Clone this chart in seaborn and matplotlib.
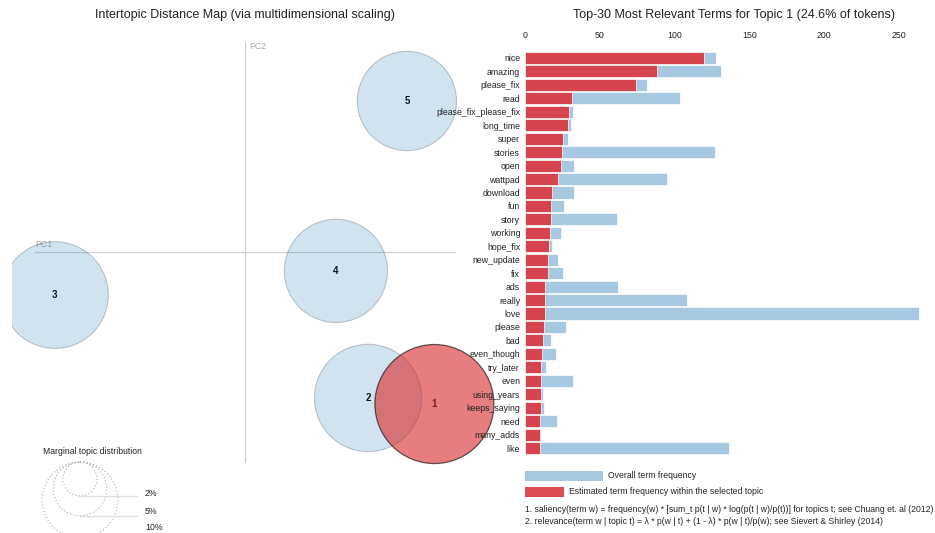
import matplotlib
matplotlib.use("Agg")
import matplotlib.pyplot as plt
from matplotlib.patches import Circle, Rectangle
import numpy as np
import pandas as pd
import seaborn as sns

# ---------------- data ----------------
terms = ["nice", "amazing", "please_fix", "read", "please_fix_please_fix", "long_time",
         "super", "stories", "open", "wattpad", "download", "fun", "story", "working",
         "hope_fix", "new_update", "fix", "ads", "really", "love", "please", "bad",
         "even_though", "try_later", "even", "using_years", "keeps_saying", "need",
         "many_adds", "like"]
overall_freq = [127.7, 130.8, 81.3, 103.6, 32.3, 30.7, 29.0, 127.0, 33.0, 94.7,
                32.8, 25.9, 61.3, 24.3, 18.3, 22.3, 25.6, 62.4, 108.1, 263.6,
                27.6, 17.4, 20.9, 14.0, 32.1, 12.0, 12.7, 21.4, 10.9, 136.6]
topic_freq = [119.7, 88.2, 74.0, 31.2, 29.6, 28.7, 25.2, 24.7, 24.3, 22.3,
              18.0, 17.6, 17.2, 16.5, 16.0, 15.6, 15.2, 13.6, 13.6, 13.2,
              12.9, 12.3, 11.1, 10.7, 11.0, 10.5, 10.5, 10.0, 10.0, 9.8]
freq_ticks = [0, 50, 100, 150, 200, 250]

topics = [1, 2, 3, 4, 5]
pc1 = [0.902, 0.586, -0.905, 0.433, 0.771]
pc2 = [-0.724, -0.695, -0.205, -0.090, 0.719]
topic_pct = [24.6, 20.0, 19.8, 18.5, 17.1]
selected_topic = 1
legend_pcts = [2, 5, 10]

# ---------------- style ----------------
sns.set_theme(style="white")
plt.rcParams["font.family"] = ["Liberation Sans", "DejaVu Sans"]

W, H = 935, 533
fig = plt.figure(figsize=(W / 100, H / 100), dpi=100)

PX_PER_UNIT = 210.0
CX, CY = 245.0, 252.0
R_PER_SQRT = 12.0  # px radius per sqrt(percent)

def fx(px):
    return px / W

def fy(py):
    return 1 - py / H

# overlay axes in pixel coordinates
ov = fig.add_axes([0, 0, 1, 1])
ov.set_xlim(0, W)
ov.set_ylim(H, 0)
ov.axis("off")
ov.set_zorder(5)
ov.patch.set_alpha(0)

# ---------------- MDS panel ----------------
left_px, right_px = 12, 520
mds = fig.add_axes([fx(left_px), 0, (right_px - left_px) / W, 1])
mds.set_xlim((left_px - CX) / PX_PER_UNIT, (right_px - CX) / PX_PER_UNIT)
mds.set_ylim((CY - H) / PX_PER_UNIT, CY / PX_PER_UNIT)
mds.axis("off")
mds.patch.set_alpha(0)

grid_col = "#d0d0d0"
mds.plot([-1, 1], [0, 0], color=grid_col, lw=0.9, zorder=1)
mds.plot([0, 0], [-1, 1], color=grid_col, lw=0.9, zorder=1)
mds.text(-1, 0.012, "PC1", color="#aaaaaa", fontsize=6.3, ha="left", va="bottom")
mds.text(0.02, 1 - 0.02, "PC2", color="#aaaaaa", fontsize=6.3, ha="left", va="center")

df_mds = pd.DataFrame({"topic": topics, "PC1": pc1, "PC2": pc2, "pct": topic_pct})
for _, r in df_mds.iterrows():
    mds.text(r.PC1, r.PC2, str(int(r.topic)), ha="center", va="center",
             fontsize=7, fontweight="bold", color="black", zorder=2)
for _, r in df_mds.sort_values("topic", ascending=False).iterrows():
    rad = R_PER_SQRT * np.sqrt(r.pct) / PX_PER_UNIT
    if int(r.topic) == selected_topic:
        c = Circle((r.PC1, r.PC2), rad, facecolor="#d62728", edgecolor="black",
                   alpha=0.6, lw=0.9, zorder=4)
    else:
        c = Circle((r.PC1, r.PC2), rad, facecolor="#1f77b4", edgecolor="black",
                   alpha=0.2, lw=0.8, zorder=3)
    mds.add_patch(c)

# titles
ov.text(245, 15, "Intertopic Distance Map (via multidimensional scaling)",
        ha="center", va="center", fontsize=9, color="#222222")
ov.text(734, 15, "Top-30 Most Relevant Terms for Topic 1 (24.6% of tokens)",
        ha="center", va="center", fontsize=9, color="#222222")

# marginal topic distribution legend
ov.text(43, 452, "Marginal topic distribution", ha="left", va="center",
        fontsize=6.2, color="#222222")
top_y = 462
for p, ly in zip(legend_pcts, [493, 512, 527]):
    rr = R_PER_SQRT * np.sqrt(p)
    ov.add_patch(Circle((80, top_y + rr), rr, fill=False, edgecolor="#aaaaaa",
                        ls=(0, (1, 2)), lw=0.8, clip_on=False))
    ov.plot([80, 137], [top_y + 2 * rr, top_y + 2 * rr], color="#dddddd", lw=0.9)
    ov.text(145, ly, f"{p}%", ha="left", va="center", fontsize=6.3, color="#222222")

# ---------------- bar panel ----------------
row_h = 13.45
y0 = 58 - 0.5 * row_h
y1 = 448 + 0.5 * row_h
bx0, bx1 = 525, 925
px_per_val = 1.496
bar = fig.add_axes([fx(bx0), fy(y1), (bx1 - bx0) / W, (y1 - y0) / H])
df_bar = pd.DataFrame({"term": terms, "overall": overall_freq, "topic": topic_freq})
sns.barplot(data=df_bar, y="term", x="overall", order=terms, orient="h",
            color="#a6c9e1", saturation=1, width=0.9, edgecolor="white",
            linewidth=0.5, ax=bar)
sns.barplot(data=df_bar, y="term", x="topic", order=terms, orient="h",
            color="#d6454f", saturation=1, width=0.9, edgecolor="white",
            linewidth=0.5, ax=bar)
bar.set_xlim(0, (bx1 - bx0) / px_per_val)
bar.set_ylim(len(terms) - 0.5, -0.5)
bar.xaxis.tick_top()
bar.set_xticks(freq_ticks)
bar.set_xticklabels([str(t) for t in freq_ticks])
bar.tick_params(axis="x", length=0, pad=8, labelsize=6.3, colors="#222222")
bar.tick_params(axis="y", length=0, pad=3.5, labelsize=6.3, colors="#222222")
bar.set_xlabel("")
bar.set_ylabel("")
for s in bar.spines.values():
    s.set_visible(False)
bar.patch.set_alpha(0)

# bar legend + footnotes
ov.add_patch(Rectangle((525, 471), 78, 10, facecolor="#a6c9e1", edgecolor="none"))
ov.text(608, 476, "Overall term frequency", ha="left", va="center",
        fontsize=6.2, color="#222222")
ov.add_patch(Rectangle((525, 487), 39, 10, facecolor="#dc4d53", edgecolor="none"))
ov.text(569, 492, "Estimated term frequency within the selected topic", ha="left",
        va="center", fontsize=6.2, color="#222222")
ov.text(525, 509, "1. saliency(term w) = frequency(w) * [sum_t p(t | w) * log(p(t | w)/p(t))] "
        "for topics t; see Chuang et. al (2012)", ha="left", va="center",
        fontsize=6.2, color="#222222")
ov.text(525, 522, "2. relevance(term w | topic t) = \u03bb * p(w | t) + (1 - \u03bb) * "
        "p(w | t)/p(w); see Sievert & Shirley (2014)", ha="left", va="center",
        fontsize=6.2, color="#222222")

fig.savefig("out.png", dpi=100)
